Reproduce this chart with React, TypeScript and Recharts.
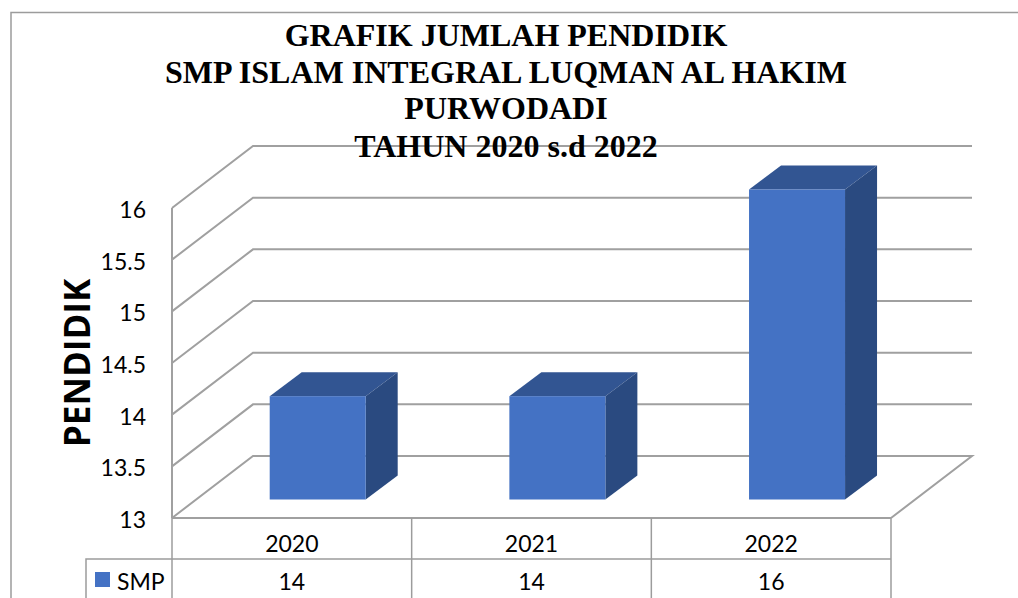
import React from 'react';
import { BarChart, Bar, XAxis, YAxis, CartesianGrid } from 'recharts';

const years = ['2020', '2021', '2022'];
const smpValues = [14, 14, 16];
const yTicks = [13, 13.5, 14, 14.5, 15, 15.5, 16];
const titleLines = [
  'GRAFIK JUMLAH PENDIDIK',
  'SMP ISLAM INTEGRAL LUQMAN AL HAKIM',
  'PURWODADI',
  'TAHUN 2020 s.d 2022',
];

const chartData = years.map((year, i) => ({ year, SMP: smpValues[i] }));

const WIDTH = 1018;
const HEIGHT = 598;
const PLOT_LEFT = 172;
const PLOT_RIGHT = 891;
const PLOT_TOP = 208;
const PLOT_BOTTOM = 518;

// oblique offset of the back wall relative to the front plane
const DEPTH_X = 81;
const DEPTH_Y = 62;
// front face of a bar sits partway into the floor, its depth is a fixed slice of it
const BAR_SHIFT_X = 25.7;
const BAR_SHIFT_Y = 18.5;
const BAR_DEPTH_X = 32;
const BAR_DEPTH_Y = 24;

const LINE = '#a0a0a0';
const TABLE_LINE = '#9c9c9c';
const FRONT = '#4472c4';
const TOP = '#325592';
const SIDE = '#2a4a80';
const LABEL_FONT = 'Lato, sans-serif';
const ROW_Y = 559;

function WallLine(props: any) {
  const { x1, x2, y1 } = props;
  const backY = y1 - DEPTH_Y;
  const isFloor = Math.abs(y1 - PLOT_BOTTOM) < 1;
  const points = [
    `${x1},${y1}`,
    `${x1 + DEPTH_X},${backY}`,
    `${x2 + DEPTH_X},${backY}`,
  ];
  if (isFloor) points.push(`${x2},${y1}`);
  return <polyline points={points.join(' ')} fill="none" stroke={LINE} strokeWidth={2} />;
}

function Cuboid(props: any) {
  const { x, y, width, height } = props;
  const l = x + BAR_SHIFT_X;
  const r = l + width;
  const t = y - BAR_SHIFT_Y;
  const b = t + height;
  const dx = BAR_DEPTH_X;
  const dy = BAR_DEPTH_Y;
  return (
    <g>
      <polygon points={`${l},${t} ${l + dx},${t - dy} ${r + dx},${t - dy} ${r},${t}`} fill={TOP} />
      <polygon points={`${r},${t} ${r + dx},${t - dy} ${r + dx},${b - dy} ${r},${b}`} fill={SIDE} />
      <rect x={l} y={t} width={width} height={height} fill={FRONT} />
    </g>
  );
}

// category label plus the data table cell underneath it
function TableTick(props: any) {
  const { x, index, payload } = props;
  const step = (PLOT_RIGHT - PLOT_LEFT) / years.length;
  const cellRight = x + step / 2;
  return (
    <g fontFamily={LABEL_FONT} fontSize={23} fill="#000">
      <line x1={cellRight} x2={cellRight} y1={PLOT_BOTTOM} y2={HEIGHT} stroke={TABLE_LINE} strokeWidth={1.5} />
      {index === 0 && (
        <line x1={x - step / 2} x2={x - step / 2} y1={PLOT_BOTTOM} y2={HEIGHT} stroke={TABLE_LINE} strokeWidth={1.5} />
      )}
      <text x={x} y={552} textAnchor="middle" fill="#000">{payload.value}</text>
      <text x={x} y={590} textAnchor="middle" fill="#000">{smpValues[index]}</text>
    </g>
  );
}

export default function App() {
  return (
    <div style={{ position: 'absolute', left: 0, top: 0, width: WIDTH, height: HEIGHT, background: '#fff' }}>
      <BarChart
        width={WIDTH}
        height={HEIGHT}
        data={chartData}
        barSize={96}
        margin={{ top: PLOT_TOP, right: WIDTH - PLOT_RIGHT, bottom: 0, left: 0 }}
      >
        <path d={`M11 ${HEIGHT} V12.5 H${WIDTH}`} fill="none" stroke={TABLE_LINE} strokeWidth={1.5} />
        <CartesianGrid vertical={false} horizontal={(p: any) => <WallLine {...p} />} />
        <XAxis
          dataKey="year"
          height={HEIGHT - PLOT_BOTTOM}
          tickLine={false}
          axisLine={{ stroke: LINE, strokeWidth: 2 }}
          tick={(p: any) => <TableTick {...p} />}
          interval={0}
        />
        <YAxis
          width={PLOT_LEFT}
          domain={[13, 16]}
          ticks={yTicks}
          interval={0}
          tickLine={false}
          tickMargin={20}
          axisLine={{ stroke: LINE, strokeWidth: 2 }}
          tick={{ fontFamily: LABEL_FONT, fontSize: 23, fill: '#000', dy: 2 }}
          label={{
            value: 'PENDIDIK',
            angle: -90,
            position: 'insideLeft',
            offset: 78,
            style: { fontFamily: 'Open Sans, sans-serif', fontWeight: 700, fontSize: 35, fill: '#000', textAnchor: 'middle' },
          }}
        />
        <Bar dataKey="SMP" fill={FRONT} shape={(p: any) => <Cuboid {...p} />} isAnimationActive={false} />
        {/* series row of the data table */}
        <path d={`M${PLOT_RIGHT} ${ROW_Y} H86 V${HEIGHT}`} fill="none" stroke={TABLE_LINE} strokeWidth={1.5} />
        <rect x={95} y={572} width={15} height={15} fill={FRONT} />
        <text x={117} y={590} fontFamily={LABEL_FONT} fontSize={23} fill="#000">SMP</text>
        <g fontFamily="Liberation Serif, serif" fontWeight={700} fontSize={32} fill="#000" textAnchor="middle">
          {titleLines.map((line, i) => (
            <text key={line} x={506} y={[46, 83, 119, 157][i]}>{line}</text>
          ))}
        </g>
      </BarChart>
    </div>
  );
}
